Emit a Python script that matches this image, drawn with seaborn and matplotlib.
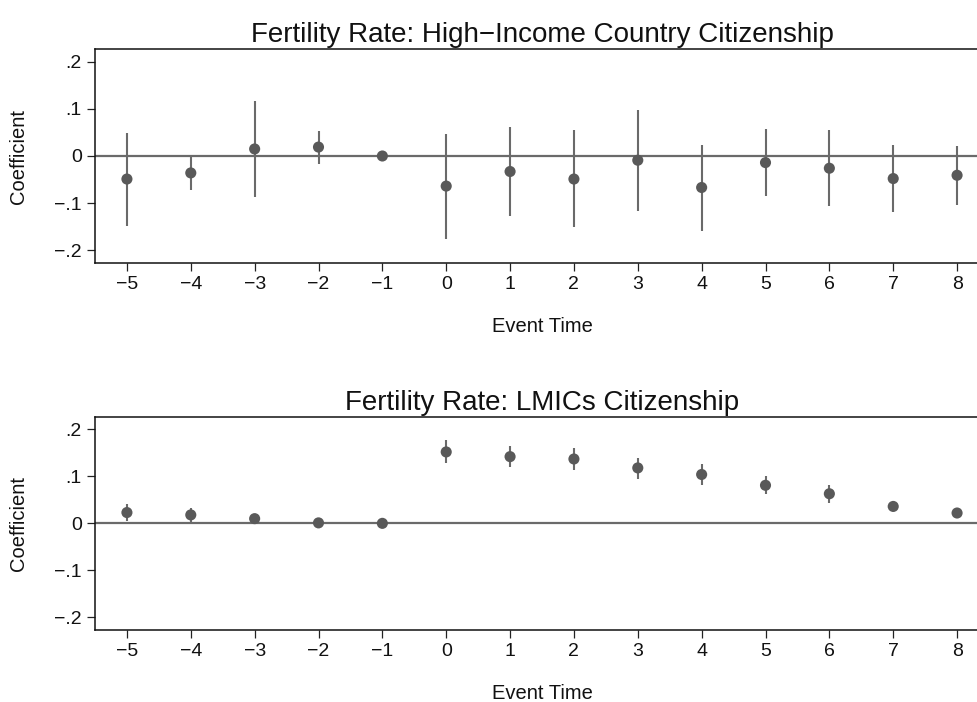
import matplotlib
matplotlib.use("Agg")
import matplotlib.pyplot as plt
import seaborn as sns
import pandas as pd

sns.set_theme(style="white")
plt.rcParams['font.family'] = ['Liberation Sans', 'DejaVu Sans']

event_time = [-5, -4, -3, -2, -1, 0, 1, 2, 3, 4, 5, 6, 7, 8]

hic_coef = [-0.049, -0.036, 0.015, 0.019, 0.0, -0.064, -0.033, -0.049, -0.009, -0.067, -0.014, -0.026, -0.048, -0.041]
hic_lo = [-0.148, -0.072, -0.087, -0.016, 0.0, -0.176, -0.128, -0.152, -0.116, -0.160, -0.086, -0.106, -0.120, -0.104]
hic_hi = [0.048, 0.000, 0.117, 0.053, 0.0, 0.047, 0.062, 0.055, 0.097, 0.023, 0.058, 0.055, 0.023, 0.021]

lmic_coef = [0.023, 0.018, 0.010, 0.001, 0.0, 0.152, 0.142, 0.137, 0.118, 0.104, 0.081, 0.063, 0.036, 0.022]
lmic_lo = [0.005, 0.003, 0.005, -0.001, 0.0, 0.128, 0.120, 0.114, 0.095, 0.081, 0.062, 0.044, 0.031, 0.019]
lmic_hi = [0.041, 0.033, 0.015, 0.003, 0.0, 0.177, 0.165, 0.160, 0.140, 0.126, 0.100, 0.082, 0.040, 0.025]

titles = ["Fertility Rate: High\u2212Income Country Citizenship", "Fertility Rate: LMICs Citizenship"]
y_ticks = [-0.2, -0.1, 0.0, 0.1, 0.2]
y_tick_labels = ["\u2212.2", "\u2212.1", "0", ".1", ".2"]
x_tick_labels = [str(v).replace("-", "\u2212") for v in event_time]

W, H = 977, 702
fig = plt.figure(figsize=(W / 100, H / 100), dpi=100)
fig.patch.set_facecolor("white")

panels = [
    (hic_coef, hic_lo, hic_hi, 49.3, 262.7),
    (lmic_coef, lmic_lo, lmic_hi, 416.7, 630.0),
]
left_px, right_px = 95.0, 989.0
dot_color = "#595959"
line_color = "#6a6a6a"

for i, (coef, lo, hi, top_px, bot_px) in enumerate(panels):
    ax = fig.add_axes([left_px / W, (H - bot_px) / H, (right_px - left_px) / W, (bot_px - top_px) / H])
    df = pd.DataFrame({"t": event_time, "coef": coef, "lo": lo, "hi": hi})
    ax.axhline(0, color=line_color, lw=1.6, zorder=1)
    ax.vlines(df["t"], df["lo"], df["hi"], color=line_color, lw=1.5, zorder=2)
    sns.scatterplot(data=df, x="t", y="coef", ax=ax, color=dot_color, s=64,
                    edgecolor="none", linewidth=0, zorder=3)
    ax.set_xlim(-5.5, 8.5)
    ax.set_ylim(-0.227, 0.227)
    ax.set_xticks(event_time)
    ax.set_xticklabels(x_tick_labels)
    ax.set_yticks(y_ticks)
    ax.set_yticklabels(y_tick_labels)
    ax.tick_params(axis="both", which="major", direction="out", length=5.5, width=0.9,
                   color="#222222", labelsize=14, labelcolor="#111111", pad=4,
                   left=True, bottom=True)
    ax.set_xlabel("Event Time", fontsize=14.5, color="#111111", labelpad=17)
    ax.set_ylabel("Coefficient", fontsize=14.5, color="#111111", labelpad=19)
    ax.set_title(titles[i], fontsize=20, color="#111111", pad=5)
    for side in ["left", "bottom", "top", "right"]:
        ax.spines[side].set_color("#111111")
        ax.spines[side].set_linewidth(1.1)
    ax.grid(False)

fig.savefig("out.png", dpi=100, facecolor="white")
